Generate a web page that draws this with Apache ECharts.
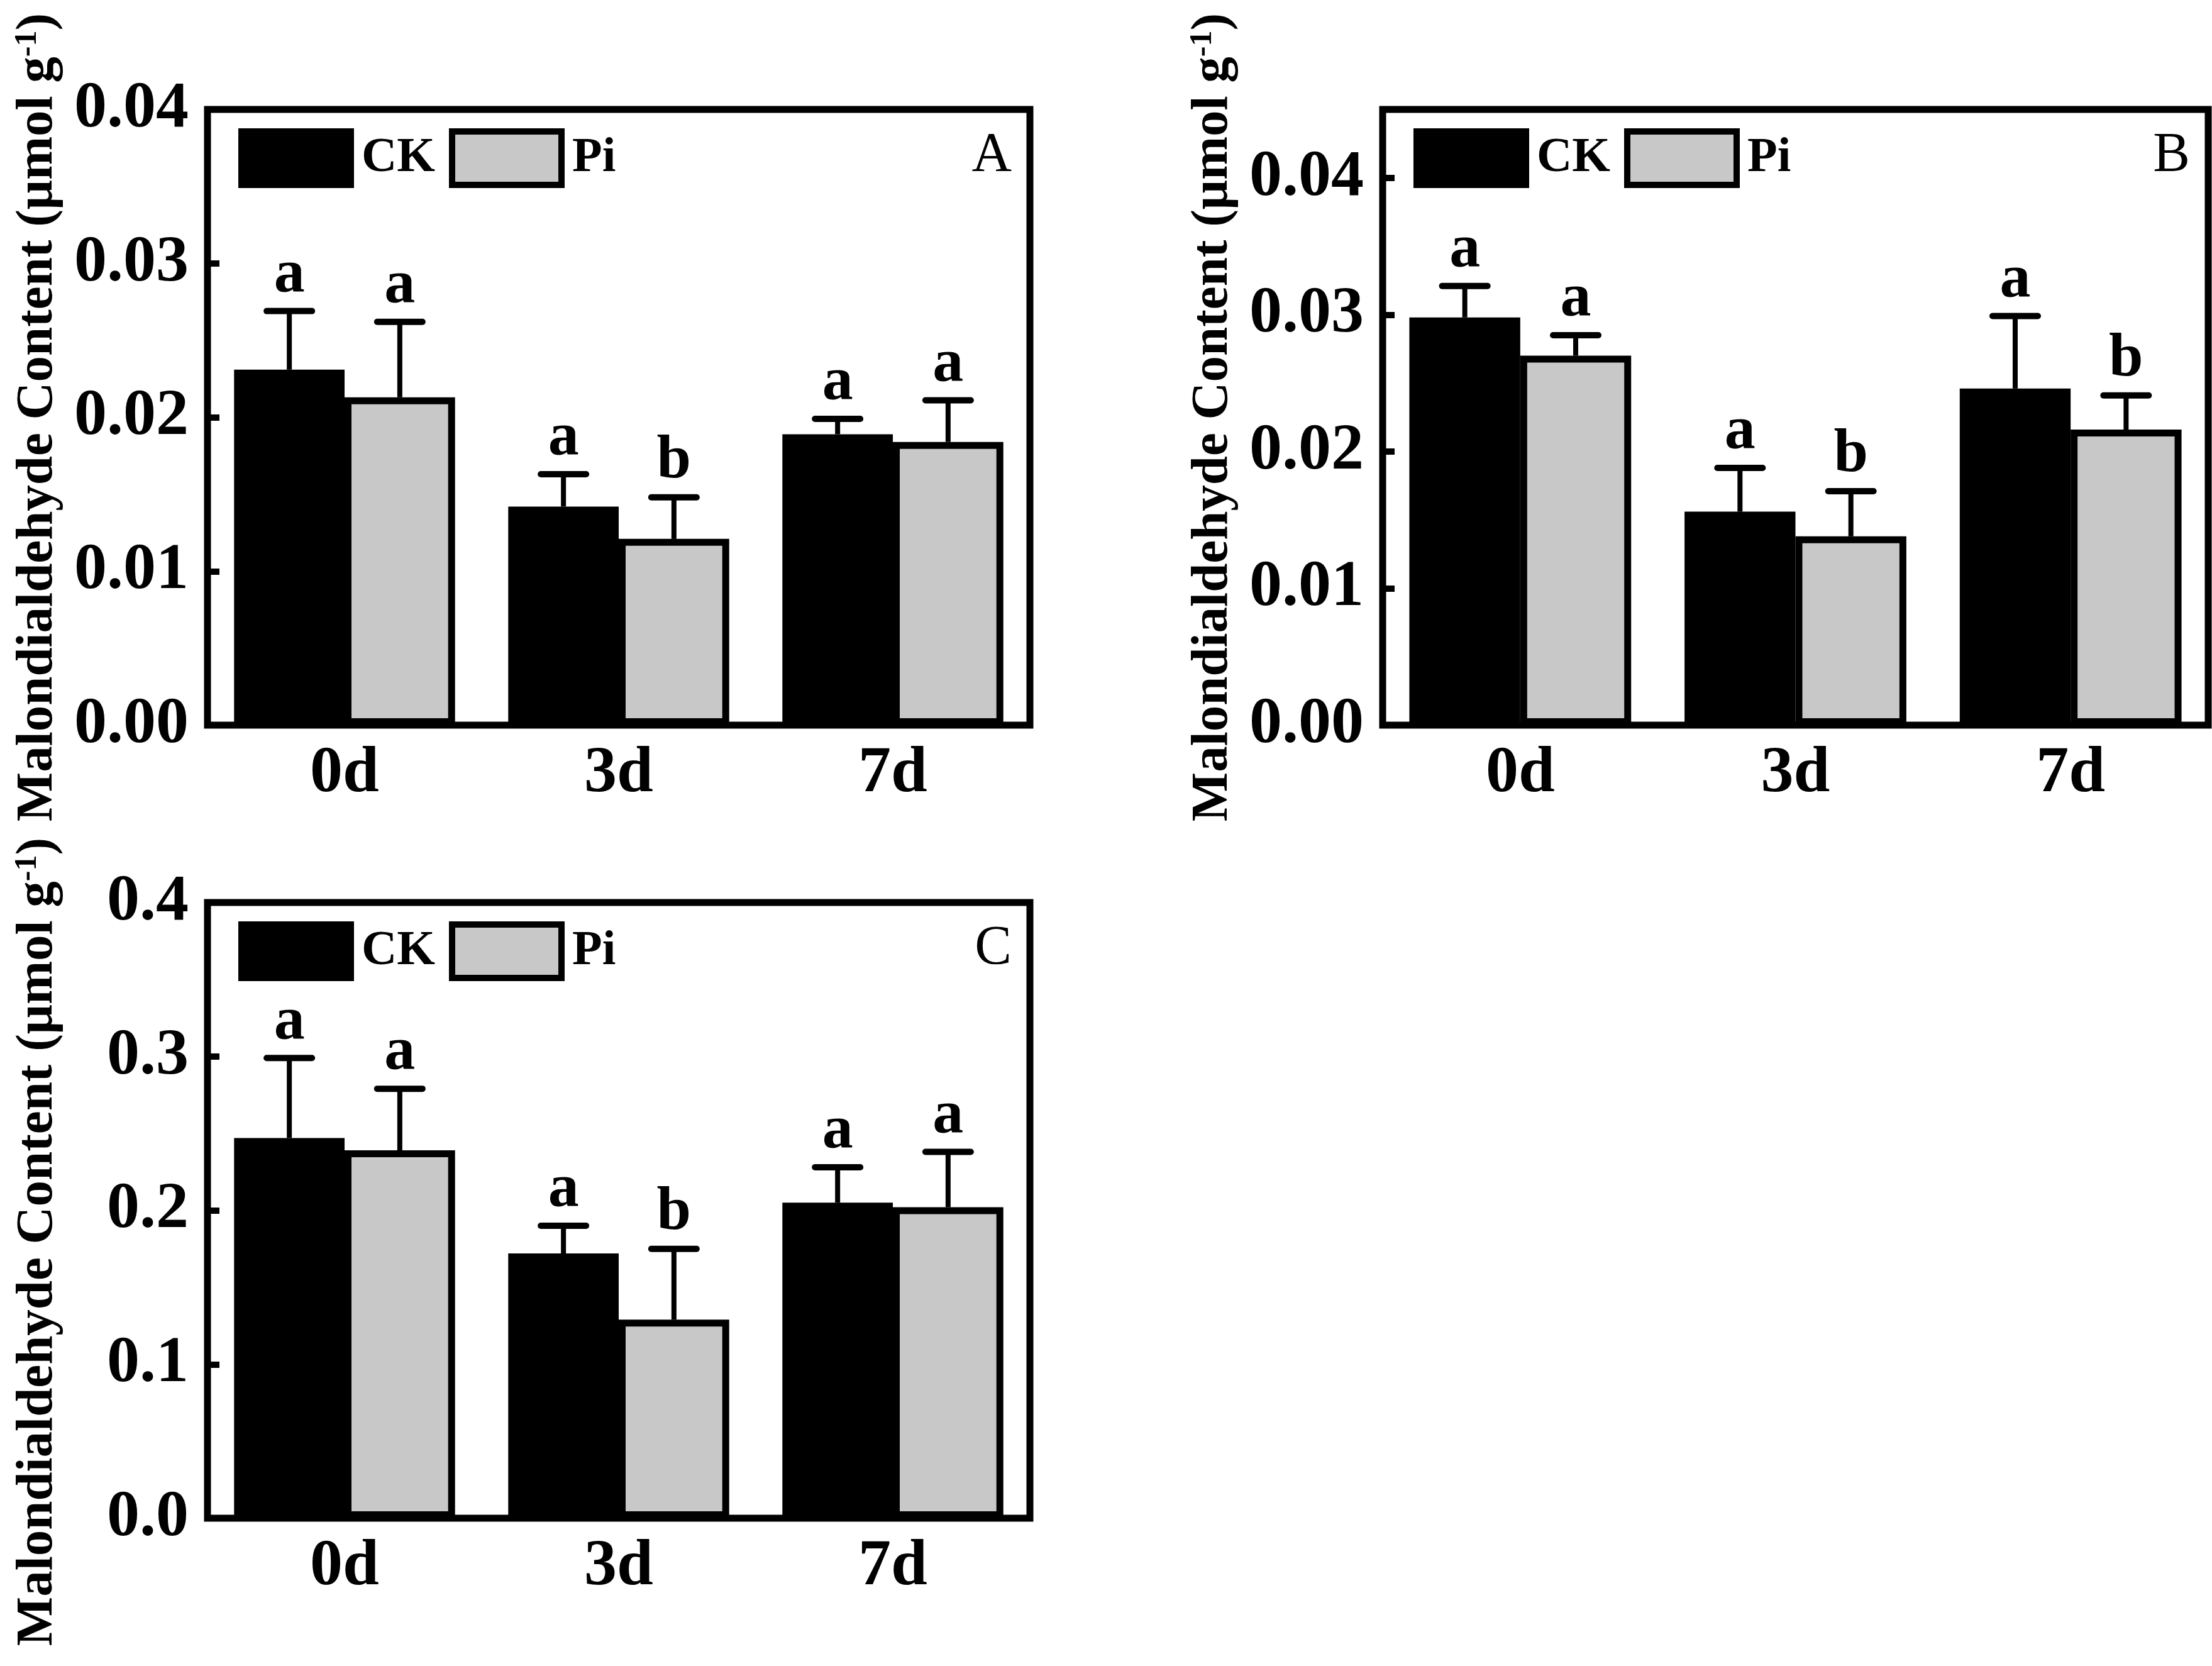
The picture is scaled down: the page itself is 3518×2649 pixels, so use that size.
<!DOCTYPE html>
<html lang="en">
<head>
<meta charset="UTF-8">
<title>MDA content</title>
<script src="https://cdn.jsdelivr.net/npm/echarts@6/dist/echarts.min.js"></script>
<style>
  html, body { margin: 0; padding: 0; background: #fff; }
  #main { width: 3518px; height: 2649px; }
</style>
</head>
<body>
<div id="main"></div>
<script>
// data (means, SD, letters)
var days = ['0d', '3d', '7d'];

var ckA = [0.0231, 0.0142, 0.0189];
var ckA_sd = [0.0038, 0.0021, 0.0010];
var piA = [0.0213, 0.0121, 0.0184];
var piA_sd = [0.0049, 0.0027, 0.0027];
var ckA_let = ['a', 'a', 'a'];
var piA_let = ['a', 'b', 'a'];

var ckB = [0.0298, 0.0156, 0.0246];
var ckB_sd = [0.0023, 0.0032, 0.0053];
var piB = [0.0270, 0.0138, 0.0216];
var piB_sd = [0.0015, 0.0033, 0.0025];
var ckB_let = ['a', 'a', 'a'];
var piB_let = ['a', 'b', 'b'];

var ckC = [0.247, 0.172, 0.205];
var ckC_sd = [0.052, 0.018, 0.023];
var piC = [0.239, 0.129, 0.202];
var piC_sd = [0.040, 0.046, 0.036];
var ckC_let = ['a', 'a', 'a'];
var piC_let = ['a', 'b', 'a'];

var yMax = [0.04, 0.045, 0.4];
var yStep = [0.01, 0.01, 0.1];
var yDigits = [2, 2, 1];
var panelLetters = ['A', 'B', 'C'];

var FONT = '"Liberation Serif", "Times New Roman", serif';
var BAR = 0.403;

var chart = echarts.init(document.getElementById('main'));

var grids = [
    { left: 330, top: 174, width: 1308, height: 979 },
    { left: 2199, top: 174, width: 1313, height: 979 },
    { left: 330, top: 1435, width: 1308, height: 979 }
];

function errSeries(g, vals, sds, lets, side) {
    return {
        type: 'custom',
        xAxisIndex: g,
        yAxisIndex: g,
        z: 5,
        data: vals.map(function (v, i) { return [i, v, sds[i]]; }),
        renderItem: function (params, api) {
            var i = api.value(0), m = api.value(1), sd = api.value(2);
            var band = api.size([1, 0])[0];
            var p = api.coord([i, m]);
            var cx = p[0] + side * band * BAR / 2;
            var top = api.coord([i, m + sd])[1];
            return {
                type: 'group',
                children: [
                    { type: 'line', shape: { x1: cx, y1: p[1], x2: cx, y2: top },
                      style: { stroke: '#000', lineWidth: 8 } },
                    { type: 'line', shape: { x1: cx - 36, y1: top, x2: cx + 36, y2: top },
                      style: { stroke: '#000', lineWidth: 10, lineCap: 'round' } },
                    { type: 'text', x: cx, y: top - 8,
                      style: { text: lets[params.dataIndex], fill: '#000', align: 'center',
                               verticalAlign: 'bottom', fontFamily: FONT, fontWeight: 'bold', fontSize: 98 } }
                ]
            };
        }
    };
}

function barSeries(g, name, vals, color) {
    return {
        name: name,
        type: 'bar',
        xAxisIndex: g,
        yAxisIndex: g,
        barWidth: (BAR * 100) + '%',
        barGap: '0%',
        data: vals,
        itemStyle: { color: color, borderColor: '#000', borderWidth: 11 }
    };
}

var sets = [
    [ckA, ckA_sd, piA, piA_sd, ckA_let, piA_let],
    [ckB, ckB_sd, piB, piB_sd, ckB_let, piB_let],
    [ckC, ckC_sd, piC, piC_sd, ckC_let, piC_let]
];

var series = [];
sets.forEach(function (s, g) {
    series.push(barSeries(g, 'CK', s[0], '#000'));
    series.push(barSeries(g, 'Pi', s[2], '#c8c8c8'));
    series.push(errSeries(g, s[0], s[1], s[4], -1));
    series.push(errSeries(g, s[2], s[3], s[5], 1));
});

var option = {
    animation: false,
    backgroundColor: '#fff',
    grid: grids.map(function (g) {
        return Object.assign({ show: true, borderColor: '#000', borderWidth: 11, containLabel: false }, g);
    }),
    xAxis: grids.map(function (g, i) {
        return {
            type: 'category',
            gridIndex: i,
            data: days,
            axisLine: { show: false },
            axisTick: { show: false },
            axisLabel: { color: '#000', fontFamily: FONT, fontWeight: 'bold', fontSize: 104, margin: 26 }
        };
    }),
    yAxis: grids.map(function (g, i) {
        return {
            type: 'value',
            gridIndex: i,
            min: 0,
            max: yMax[i],
            interval: yStep[i],
            splitLine: { show: false },
            axisLine: { show: false },
            axisTick: { show: true, inside: true, length: 19, lineStyle: { color: '#000', width: 10 } },
            axisLabel: {
                color: '#000', fontFamily: FONT, fontWeight: 'bold', fontSize: 104, margin: 30,
                formatter: function (v) {
                    var k = v / yStep[i];
                    if (Math.abs(k - Math.round(k)) > 1e-6) return '';
                    return v.toFixed(yDigits[i]);
                }
            },
            name: '{t|Malondialdehyde Content (μmol g}{s|-1}{t|)}',
            nameLocation: 'middle',
            nameRotate: 90,
            nameGap: 228,
            nameTextStyle: {
                padding: i === 2 ? [0, 100, 0, 0] : 0,
                rich: {
                    t: { fontFamily: FONT, fontWeight: 'bold', fontSize: 83, color: '#000' },
                    s: { fontFamily: FONT, fontWeight: 'bold', fontSize: 50, color: '#000', verticalAlign: 'top' }
                }
            }
        };
    }),
    legend: grids.map(function (g) {
        return {
            left: g.left + 49,
            top: g.top + 30,
            padding: 0,
            itemWidth: 174,
            itemHeight: 85,
            itemGap: 22,
            icon: 'rect',
            selectedMode: false,
            textStyle: { color: '#000', fontFamily: FONT, fontWeight: 'bold', fontSize: 78, padding: [0, 0, 0, 12] },
            data: [
                { name: 'CK', itemStyle: { color: '#000', borderColor: '#000', borderWidth: 10 } },
                { name: 'Pi', itemStyle: { color: '#c8c8c8', borderColor: '#000', borderWidth: 10 } }
            ]
        };
    }),
    graphic: grids.map(function (g, i) {
        return {
            type: 'text',
            x: g.left + g.width - 29,
            y: g.top + 30,
            style: { text: panelLetters[i], align: 'right', verticalAlign: 'top',
                     fontFamily: FONT, fontSize: 88, fill: '#000' }
        };
    }),
    series: series
};

chart.setOption(option);
</script>
</body>
</html>
